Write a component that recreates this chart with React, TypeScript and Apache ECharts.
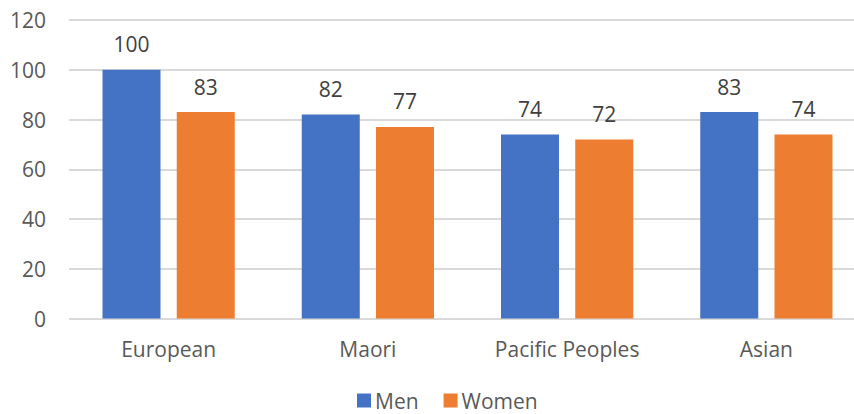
import React, { useEffect, useRef } from "react";
import * as echarts from "echarts";

const categories = ["European", "Maori", "Pacific Peoples", "Asian"];
const men = [100, 82, 74, 83];
const women = [83, 77, 72, 74];
const yTicks = { min: 0, max: 120, interval: 20 };

const FONT = "'Open Sans', 'Noto Sans', sans-serif";

export default function App() {
  const ref = useRef<HTMLDivElement>(null);
  useEffect(() => {
    if (!ref.current) return;
    const chart = echarts.init(ref.current, null, { renderer: "svg" });
    const label = {
      show: true,
      position: "top",
      distance: 15,
      color: "#404040",
      fontSize: 21,
      fontFamily: FONT,
    };
    chart.setOption({
      animation: false,
      textStyle: { fontFamily: FONT },
      grid: {
        left: 69,
        width: 797,
        top: 20,
        height: 298.5,
        containLabel: false,
        outerBoundsMode: "none",
      },
      legend: {
        data: ["Men", "Women"],
        left: 357,
        top: 390,
        padding: 0,
        itemWidth: 14,
        itemHeight: 14,
        itemGap: 25,
        icon: "rect",
        textStyle: { fontSize: 21, color: "#595959", fontFamily: FONT, padding: [0, 0, 0, -1] },
      },
      xAxis: {
        type: "category",
        data: categories,
        axisTick: { show: false },
        axisLine: { show: false },
        axisLabel: { fontSize: 21, color: "#595959", margin: 20, fontFamily: FONT },
      },
      yAxis: {
        type: "value",
        min: yTicks.min,
        max: yTicks.max,
        interval: yTicks.interval,
        axisLine: { show: false },
        axisTick: { show: false },
        splitLine: { lineStyle: { color: "#d9d9d9", width: 2 } },
        axisLabel: { fontSize: 21, color: "#595959", margin: 23, fontFamily: FONT },
      },
      series: [
        {
          name: "Men",
          type: "bar",
          data: men,
          barWidth: 58,
          barGap: "28%",
          itemStyle: { color: "#4472C4" },
          label,
        },
        {
          name: "Women",
          type: "bar",
          data: women,
          barWidth: 58,
          itemStyle: { color: "#ED7D31" },
          label,
        },
      ],
    });
    return () => chart.dispose();
  }, []);
  return (
    <div
      ref={ref}
      style={{ position: "fixed", left: 0, top: 0, width: 854, height: 414, background: "#fff" }}
    />
  );
}
